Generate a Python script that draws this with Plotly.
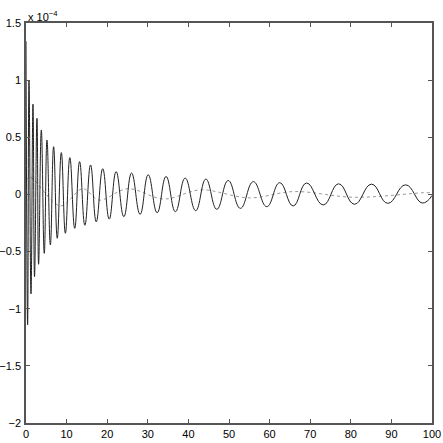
import plotly.graph_objects as go

# values, y in units of 1e-4
peak_x = [0.0, 0.74, 1.72, 2.7, 3.77, 5.17, 6.8, 8.7, 10.8, 13.2, 15.9, 18.9, 22.2,
          26.0, 30.1, 34.5, 39.2, 44.3, 49.8, 56.0, 62.5, 69.1, 77.0, 85.1, 93.5]
peak_y = [1.34, 1.00, 0.79, 0.666, 0.564, 0.476, 0.418, 0.366, 0.322, 0.287, 0.258, 0.225, 0.20,
          0.187, 0.172, 0.157, 0.143, 0.134, 0.122, 0.112, 0.103, 0.100, 0.093, 0.090, 0.084]
trough_x = [0.4, 1.23, 2.1, 3.1, 4.5, 6.0, 7.7, 9.7, 12.0, 14.5, 17.3, 20.5, 24.1,
            28.1, 32.3, 36.8, 41.8, 47.0, 52.8, 59.3, 65.8, 73.2, 80.9, 89.1, 97.6]
trough_y = [-1.14, -0.87, -0.72, -0.611, -0.515, -0.442, -0.384, -0.34, -0.297, -0.27, -0.24, -0.216, -0.195,
            -0.174, -0.16, -0.151, -0.142, -0.13, -0.122, -0.107, -0.101, -0.092, -0.086, -0.078, -0.075]
end_x, end_y = 100.0, -0.01

# dotted slow component
dot_x = [0.0, 1.0, 8.5, 14.0, 18.0, 25.0, 34.0, 43.0, 55.0, 66.0, 81.0, 98.0, 100.0]
dot_y = [0.12, 0.15, -0.10, 0.05, -0.05, 0.05, -0.04, 0.04, -0.03, 0.025, -0.025, 0.015, 0.015]

y_ticks = [1.5, 1, 0.5, 0, -0.5, -1, -1.5, -2]
x_ticks = [0, 10, 20, 30, 40, 50, 60, 70, 80, 90, 100]

# merge peaks and troughs into one ordered line
sig = sorted(list(zip(peak_x, peak_y)) + list(zip(trough_x, trough_y)) + [(end_x, end_y)])
sig_x = [p[0] for p in sig]
sig_y = [p[1] for p in sig]

font = dict(family="Liberation Sans Narrow, Liberation Sans, Arial", size=11, color="black")

fig = go.Figure()
fig.add_trace(go.Scatter(
    x=dot_x, y=dot_y, mode="lines",
    line=dict(color="#999999", width=1, dash="dot", shape="spline"),
    hoverinfo="skip"))
fig.add_trace(go.Scatter(
    x=sig_x, y=sig_y, mode="lines",
    line=dict(color="#222222", width=1, shape="spline", smoothing=1.3),
    hoverinfo="skip"))

axis_common = dict(
    showgrid=False, zeroline=False, showline=True, mirror="ticks",
    linecolor="#555555", linewidth=1.5, ticks="inside", ticklen=4,
    tickcolor="#555555", tickfont=font, automargin=False)

fig.update_layout(
    width=443, height=443,
    margin=dict(l=26, r=11, t=23, b=20),
    plot_bgcolor="white", paper_bgcolor="white",
    showlegend=False,
    xaxis=dict(range=[0, 100], tickvals=x_ticks, **axis_common),
    yaxis=dict(range=[-2, 1.5], tickvals=y_ticks, ticklabelstandoff=1, **axis_common),
    annotations=[dict(
        text="x 10<sup>\u22124</sup>", xref="paper", yref="paper",
        x=0, y=1, xanchor="left", yanchor="bottom", yshift=-2, showarrow=False,
        font=dict(family="Liberation Sans Narrow, Liberation Sans, Arial", size=11, color="black"))],
)

# drop the default body margin so the figure fills the window
fig.write_html("out.html", config={"displayModeBar": False},
               post_script="document.body.style.margin='0';")
